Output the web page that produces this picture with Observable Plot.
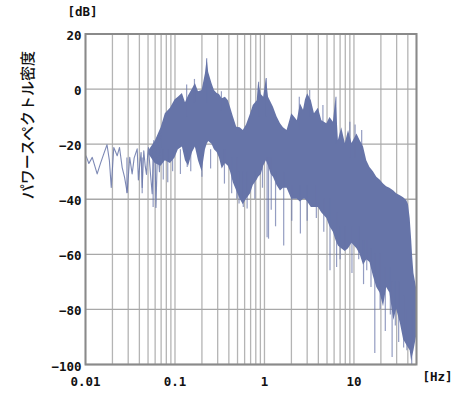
<!DOCTYPE html>
<html>
<head>
<meta charset="utf-8">
<script src="https://cdn.jsdelivr.net/npm/d3@7"></script>
<script src="https://cdn.jsdelivr.net/npm/@observablehq/plot@0.6"></script>
<style>
  html, body { margin: 0; padding: 0; background: #fff; }
</style>
</head>
<body>
<div id="chart"></div>
<script>
// Sparse low-frequency part of the spectrum (Hz, dB)
const lowFreq = [0.0100, 0.0103, 0.0109, 0.0119, 0.0135, 0.0147, 0.0160, 0.0174, 0.0185, 0.0194,
  0.0207, 0.0226, 0.0240, 0.0257, 0.0273, 0.0292, 0.0312, 0.0332, 0.0350, 0.0378,
  0.0390, 0.0405, 0.0418, 0.0430, 0.0448, 0.0465, 0.0480, 0.0495, 0.0505, 0.0530,
  0.0556, 0.0580, 0.0600, 0.0613, 0.0640, 0.0670, 0.0700];
const lowDb = [-24, -24.8, -27, -24.8, -30.8, -27, -23.5, -20.2, -26, -35.7,
  -21.2, -24.2, -21.2, -28.5, -32, -37.5, -24.8, -30.8, -25, -21.7,
  -33, -27, -23, -35.7, -22.4, -28, -31, -24, -21.2, -30,
  -38, -18.7, -26, -43, -20, -30, -16];

// Dense band: upper and lower envelope (Hz, dB)
const bandFreq = [0.052, 0.060, 0.070, 0.078, 0.089, 0.100, 0.109, 0.121, 0.131,
  0.142, 0.157, 0.169, 0.183, 0.201, 0.219, 0.229, 0.238, 0.259, 0.276,
  0.296, 0.314, 0.337, 0.366, 0.395, 0.417, 0.449, 0.490, 0.535, 0.580,
  0.630, 0.700, 0.750, 0.830, 0.860, 0.920, 0.980, 1.05, 1.11, 1.19,
  1.26, 1.38, 1.51, 1.63, 1.79, 1.90, 2.02, 2.15, 2.33, 2.52,
  2.73, 2.87, 3.04, 3.34, 3.62, 4.00, 4.38, 4.98, 5.40, 5.89,
  6.30, 6.70, 7.30, 8.00, 8.70, 9.50, 10.8, 11.7, 12.8, 13.9,
  15.1, 16.5, 18.0, 19.6, 21.4, 23.2, 25.2, 27.9, 30.0, 33.0,
  35.9, 39.0, 40.7, 42.5, 44.2, 45.3, 46.8, 50.0];
const bandTop = [-22, -19, -14, -9, -7, -4, -3, -1.6, -5,
  -2.4, 0, 2, -1, -0.5, 5.6, 11, 6, 2, -0.5,
  -1.6, -2, -3.5, -3, -4.2, -6.6, -10, -13.9, -14, -15,
  -13, -9, -6, -4.2, 2.5, -2, -3, 3.8, -3, -5,
  -6.6, -10, -12.6, -14, -15, -12, -9, -10, -11.5, -5.3,
  -7.7, -4, -1.7, -4.2, -9, -7, -11.5, -12.6, -10.3, -12,
  -3, -18.7, -14, -19.8, -15, -19.8, -16.3, -18.7, -21, -26,
  -28.5, -30, -32, -33, -34.5, -35.5, -36, -37, -38, -38.7,
  -39.5, -40.5, -42, -47, -55, -61, -67, -72];
const bandBottom = [-24, -27, -28, -26, -27, -25, -22, -21, -26,
  -28, -23, -21, -26, -30, -22, -20, -19, -20, -22,
  -23, -25, -29, -27, -28, -30, -34, -37, -40, -42,
  -40, -38, -35, -33, -32, -31, -28, -26, -28, -31,
  -32, -35, -37, -36, -36, -38, -40, -40, -40, -41,
  -40, -40, -41, -43, -43, -43, -45, -47, -50, -52,
  -55, -57, -58, -59, -58, -56, -58, -60, -64, -62,
  -63, -68, -72, -74, -79, -72, -74, -84, -80, -85,
  -91, -93, -94, -95, -99, -97, -95, -90];

// Isolated deep dips and sharp peaks (Hz, dB top, dB bottom)
const spikeFreq = [0.029, 0.043, 0.057, 0.074, 0.083, 0.094, 0.115, 0.137, 0.150, 0.200,
  0.250, 0.357, 0.430, 0.490, 0.520, 0.580, 0.640, 0.780, 0.950,
  1.07, 1.11, 1.19, 1.33, 1.64, 2.02, 2.52, 3.00, 3.80, 4.60, 5.40,
  6.40, 7.00, 8.00, 9.50, 11.3, 12.8, 13.9, 15.5, 17.1, 19.6, 22.4, 25.5,
  26.7, 29.0, 31.6, 35.9, 39.0, 44.2,
  0.135, 0.165, 0.226, 0.330, 0.86, 1.05, 2.45, 3.20, 4.50, 6.30, 9.00, 10.3, 12.2];
const spikeTop = [-25, -25, -25, -22, -22, -22, -22, -22, -22, -22,
  -22, -22, -25, -25, -30, -30, -30, -30, -28,
  -25, -25, -25, -30, -30, -35, -35, -35, -35, -40, -40,
  -45, -50, -50, -50, -50, -55, -55, -58, -60, -60, -65, -65,
  -70, -70, -70, -75, -80, -80,
  -10, -5, -5, -8, -10, -10, -15, -10, -15, -20, -25, -25, -25];
const spikeLow = [-38, -38, -43, -33, -34, -30, -31, -28.5, -30, -32,
  -29, -34.5, -38, -40, -41.7, -43, -43.5, -40, -36,
  -54, -54.5, -44, -50, -57, -48, -52.6, -48, -47, -52, -66,
  -64.8, -62, -58, -67, -62, -71, -66, -72, -96, -80, -88, -82,
  -97.5, -86, -92, -94, -95, -100,
  1.5, 3.5, 11, -1, 2.5, 3.8, -3, -0.5, -6, -3, -12, -13, -15];

const xTicks = [0.01, 0.1, 1, 10];
const yTicks = [-100, -80, -60, -40, -20, 0, 20];
const xLabel = "[Hz]";
const yUnit = "[dB]";
const yTitle = "パワースペクトル密度";

const color = "#6674a8";

const low = lowFreq.map((f, i) => ({f, db: lowDb[i]}));
const band = bandFreq.map((f, i) => ({f, top: bandTop[i], bottom: bandBottom[i]}));
const spikes = spikeFreq.map((f, i) => ({f, top: spikeTop[i], low: spikeLow[i]}));

const gridX = [];
for (const d of [0.01, 0.1, 1, 10]) for (let k = 1; k <= 9; k++) { const v = d * k; if (v <= 50) gridX.push(+v.toPrecision(3)); }

const chart = Plot.plot({
  width: 473,
  height: 396,
  marginLeft: 85,
  marginRight: 57,
  marginTop: 33.5,
  marginBottom: 32,
  style: {fontFamily: "'DejaVu Sans Mono', monospace", fontSize: "12.5px", fontWeight: "bold", color: "#111", background: "#fff"},
  x: {type: "log", domain: [0.01, 50]},
  y: {domain: [-100, 20]},
  marks: [
    Plot.ruleX(gridX, {stroke: "#b4b4b4", strokeWidth: 1.3}),
    Plot.ruleY(yTicks, {stroke: "#a8a8a8", strokeWidth: 1.3}),
    Plot.areaY(band, {x: "f", y1: "bottom", y2: "top", fill: color, fillOpacity: 1, curve: "linear"}),
    Plot.lineY(low, {x: "f", y: "db", stroke: color, strokeWidth: 1.1, strokeOpacity: 0.85}),
    Plot.ruleX(spikes, {x: "f", y1: "low", y2: "top", stroke: color, strokeWidth: 1.2, strokeOpacity: 0.7}),
    Plot.frame({stroke: "#8a8a8a", strokeWidth: 2}),
    Plot.axisX({ticks: xTicks, tickSize: 0, tickPadding: 13, tickFormat: d => String(d), label: null, fontWeight: "bold"}),
    Plot.axisY({ticks: yTicks, tickSize: 0, tickPadding: 4, dy: 2, label: null, fontWeight: "bold"}),
    Plot.text([yUnit], {frameAnchor: "top-left", dx: -18, dy: -27, text: d => d, fontSize: 12.5}),
    Plot.text([xLabel], {frameAnchor: "bottom-right", dx: 36, dy: 16, text: d => d, fontSize: 12.5}),
    Plot.text([yTitle], {frameAnchor: "left", dx: -57, rotate: -90, text: d => d, fontFamily: "'Noto Sans CJK JP', sans-serif", fontSize: 15, fontWeight: 500})
  ]
});
document.getElementById("chart").appendChild(chart);
</script>
</body>
</html>
